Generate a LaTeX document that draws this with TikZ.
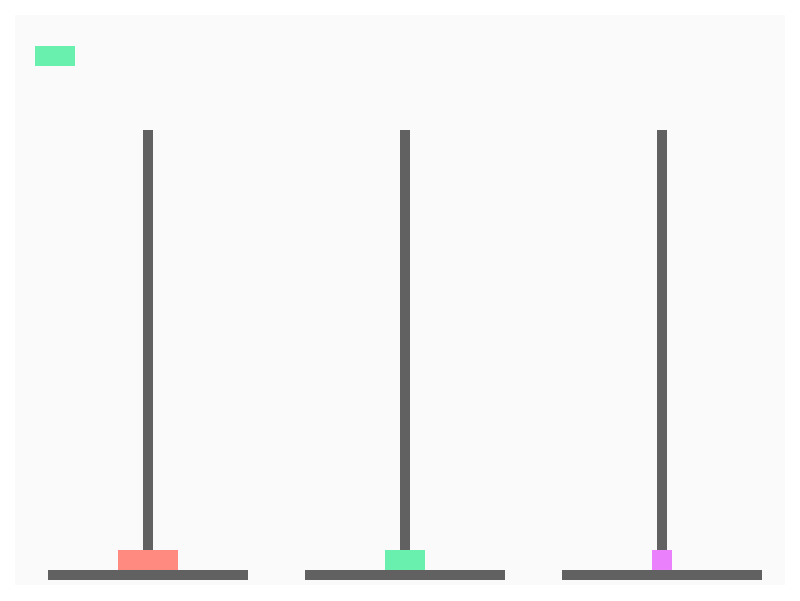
\documentclass[tikz,border=0pt]{standalone}
\usepackage{xcolor}
\usepackage{tikz}
\usetikzlibrary{calc}

\definecolor{rodgray}{HTML}{616161}
\definecolor{boardbg}{HTML}{FAFAFA}
\definecolor{diskred}{HTML}{FF8A80}
\definecolor{diskgreen}{HTML}{69F0AE}
\definecolor{diskpurple}{HTML}{EA80FC}

\begin{document}
\begin{tikzpicture}[x=0.01cm,y=-0.01cm]
  % Board: three rods, each with its base, and the disks.
  \useasboundingbox (0,0) rectangle (800,600);
  \fill[white] (0,0) rectangle (800,600);
  \fill[boardbg] (15,15) rectangle (785,585);

  \coordinate (A) at (148,570);
  \coordinate (B) at (405,570);
  \coordinate (C) at (661.7,570);

  \fill[rodgray] ($(A)+(-5,-440)$) rectangle ($(A)+(5,0)$);
  \fill[rodgray] ($(B)+(-5,-440)$) rectangle ($(B)+(5,0)$);
  \fill[rodgray] ($(C)+(-5,-440)$) rectangle ($(C)+(5,0)$);

  \fill[rodgray] ($(A)+(-100,0)$) rectangle ($(A)+(100,10)$);
  \fill[rodgray] ($(B)+(-100,0)$) rectangle ($(B)+(100,10)$);
  \fill[rodgray] ($(C)+(-100,0)$) rectangle ($(C)+(100,10)$);

  \fill[diskred]    ($(A)+(-30,-20)$) rectangle ($(A)+(30,0)$);
  \fill[diskgreen]  ($(B)+(-20,-20)$) rectangle ($(B)+(20,0)$);
  \fill[diskpurple] ($(C)+(-10,-20)$) rectangle ($(C)+(10,0)$);

  % disk held above the board
  \fill[diskgreen] (35,45.5) rectangle (75,65.5);
\end{tikzpicture}
\end{document}
